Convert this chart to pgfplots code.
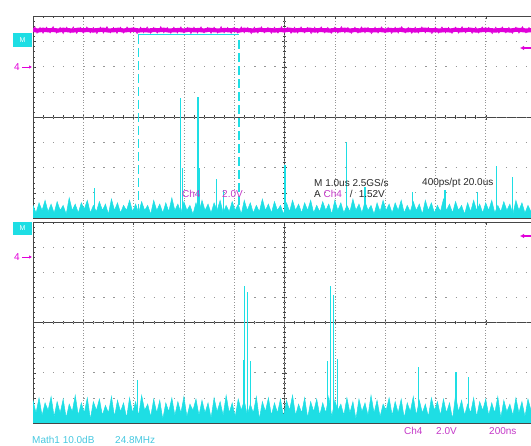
\documentclass[border=0pt]{standalone}
\usepackage{pgfplots}
\pgfplotsset{compat=1.18}
\usepackage{pgfplotstable}
\usepackage{fontspec}
\setmainfont{Liberation Sans}
\usetikzlibrary{arrows.meta}

\definecolor{trM}{RGB}{225,0,218}
\definecolor{trC}{RGB}{30,222,228}
\definecolor{txM}{RGB}{196,56,200}
\definecolor{txC}{RGB}{70,200,224}
\definecolor{txK}{RGB}{40,40,40}
\definecolor{grat}{RGB}{70,70,70}
\definecolor{gdot}{RGB}{150,150,150}
\definecolor{trig}{RGB}{40,120,220}
\newcommand\fs{\fontsize{10}{12}\selectfont}

% magenta trace (divisions)
\pgfplotstableread[row sep=\\]{
x y\\
-5.0 3.46\\ -4.9 3.44\\ -4.8 3.47\\ -4.7 3.45\\ -4.6 3.46\\ -4.5 3.44\\ -4.4 3.47\\ -4.3 3.45\\ -4.2 3.44\\ -4.1 3.47\\
-4.0 3.45\\ -3.9 3.46\\ -3.8 3.44\\ -3.7 3.46\\ -3.6 3.47\\ -3.5 3.44\\ -3.4 3.45\\ -3.3 3.47\\ -3.2 3.44\\ -3.1 3.46\\
-3.0 3.47\\ -2.9 3.44\\ -2.8 3.46\\ -2.7 3.44\\ -2.6 3.46\\ -2.5 3.45\\ -2.4 3.47\\ -2.3 3.44\\ -2.2 3.45\\ -2.1 3.46\\
-2.0 3.44\\ -1.9 3.47\\ -1.8 3.45\\ -1.7 3.46\\ -1.6 3.44\\ -1.5 3.47\\ -1.4 3.45\\ -1.3 3.44\\ -1.2 3.46\\ -1.1 3.45\\
-1.0 3.46\\ -0.9 3.44\\ -0.8 3.47\\ -0.7 3.45\\ -0.6 3.44\\ -0.5 3.47\\ -0.4 3.45\\ -0.3 3.46\\ -0.2 3.44\\ -0.1 3.46\\
0.0 3.45\\ 0.1 3.47\\ 0.2 3.44\\ 0.3 3.46\\ 0.4 3.45\\ 0.5 3.47\\ 0.6 3.44\\ 0.7 3.46\\ 0.8 3.45\\ 0.9 3.44\\
1.0 3.46\\ 1.1 3.45\\ 1.2 3.47\\ 1.3 3.44\\ 1.4 3.46\\ 1.5 3.44\\ 1.6 3.47\\ 1.7 3.45\\ 1.8 3.45\\ 1.9 3.46\\
2.0 3.44\\ 2.1 3.46\\ 2.2 3.45\\ 2.3 3.47\\ 2.4 3.44\\ 2.5 3.46\\ 2.6 3.44\\ 2.7 3.46\\ 2.8 3.47\\ 2.9 3.45\\
3.0 3.45\\ 3.1 3.44\\ 3.2 3.46\\ 3.3 3.44\\ 3.4 3.47\\ 3.5 3.45\\ 3.6 3.46\\ 3.7 3.47\\ 3.8 3.44\\ 3.9 3.45\\
4.0 3.47\\ 4.1 3.45\\ 4.2 3.44\\ 4.3 3.46\\ 4.4 3.45\\ 4.5 3.44\\ 4.6 3.47\\ 4.7 3.46\\ 4.8 3.44\\ 4.9 3.45\\
}\magtab

% magenta band edge hairs (divisions)
\pgfplotstableread[row sep=\\]{
x y\\
-5.00 3.45\\ -4.96 3.58\\ -4.92 3.34\\ -4.86 3.56\\ -4.80 3.33\\ -4.73 3.57\\ -4.66 3.35\\ -4.60 3.59\\ -4.53 3.34\\ -4.46 3.56\\
-4.40 3.32\\ -4.33 3.57\\ -4.26 3.35\\ -4.20 3.58\\ -4.13 3.33\\ -4.06 3.56\\ -4.00 3.34\\ -3.93 3.58\\ -3.86 3.35\\ -3.80 3.56\\
-3.73 3.32\\ -3.66 3.57\\ -3.60 3.34\\ -3.53 3.59\\ -3.46 3.35\\ -3.40 3.56\\ -3.33 3.33\\ -3.26 3.57\\ -3.20 3.34\\ -3.13 3.58\\
-3.06 3.35\\ -3.00 3.56\\ -2.93 3.32\\ -2.86 3.57\\ -2.80 3.35\\ -2.73 3.58\\ -2.66 3.33\\ -2.60 3.56\\ -2.53 3.34\\ -2.46 3.59\\
-2.40 3.35\\ -2.33 3.56\\ -2.26 3.33\\ -2.20 3.57\\ -2.13 3.34\\ -2.06 3.58\\ -2.00 3.35\\ -1.93 3.56\\ -1.86 3.32\\ -1.80 3.57\\
-1.73 3.34\\ -1.66 3.58\\ -1.60 3.35\\ -1.53 3.56\\ -1.46 3.33\\ -1.40 3.57\\ -1.33 3.34\\ -1.26 3.59\\ -1.20 3.35\\ -1.13 3.56\\
-1.06 3.33\\ -1.00 3.57\\ -0.93 3.34\\ -0.86 3.58\\ -0.80 3.35\\ -0.73 3.56\\ -0.66 3.32\\ -0.60 3.57\\ -0.53 3.34\\ -0.46 3.58\\
-0.40 3.35\\ -0.33 3.56\\ -0.26 3.33\\ -0.20 3.57\\ -0.13 3.34\\ -0.06 3.59\\ 0.00 3.35\\ 0.06 3.56\\ 0.13 3.33\\ 0.20 3.57\\
0.26 3.34\\ 0.33 3.58\\ 0.40 3.35\\ 0.46 3.56\\ 0.53 3.32\\ 0.60 3.57\\ 0.66 3.34\\ 0.73 3.58\\ 0.80 3.35\\ 0.86 3.56\\
0.93 3.33\\ 1.00 3.57\\ 1.06 3.34\\ 1.13 3.59\\ 1.20 3.35\\ 1.26 3.56\\ 1.33 3.33\\ 1.40 3.57\\ 1.46 3.34\\ 1.53 3.58\\
1.60 3.35\\ 1.66 3.56\\ 1.73 3.32\\ 1.80 3.57\\ 1.86 3.34\\ 1.93 3.58\\ 2.00 3.35\\ 2.06 3.56\\ 2.13 3.33\\ 2.20 3.57\\
2.26 3.34\\ 2.33 3.59\\ 2.40 3.35\\ 2.46 3.56\\ 2.53 3.33\\ 2.60 3.57\\ 2.66 3.34\\ 2.73 3.58\\ 2.80 3.35\\ 2.86 3.56\\
2.93 3.32\\ 3.00 3.57\\ 3.06 3.34\\ 3.13 3.58\\ 3.20 3.35\\ 3.26 3.56\\ 3.33 3.33\\ 3.40 3.57\\ 3.46 3.34\\ 3.53 3.59\\
3.60 3.35\\ 3.66 3.56\\ 3.73 3.33\\ 3.80 3.57\\ 3.86 3.34\\ 3.93 3.58\\ 4.00 3.35\\ 4.06 3.56\\ 4.13 3.32\\ 4.20 3.57\\
4.26 3.34\\ 4.33 3.58\\ 4.40 3.35\\ 4.46 3.56\\ 4.53 3.33\\ 4.60 3.57\\ 4.66 3.34\\ 4.73 3.59\\ 4.80 3.35\\ 4.86 3.56\\ 4.90 3.45\\
}\maghair

% cyan noise envelopes (top panel, bottom panel), divisions
\pgfplotstableread[row sep=\\]{
x top bot\\
-5.00 -4.6 -4.6\\
-5.00 -3.5 -3.1\\ -4.94 -3.8 -3.6\\ -4.88 -3.4 -3.0\\ -4.82 -3.7 -3.7\\ -4.76 -3.3 -3.2\\ -4.70 -3.75 -3.5\\ -4.64 -3.45 -2.95\\ -4.58 -3.8 -3.75\\ -4.52 -3.35 -3.15\\ -4.46 -3.7 -3.6\\
-4.40 -3.5 -3.05\\ -4.34 -3.85 -3.8\\ -4.28 -3.2 -3.25\\ -4.22 -3.7 -3.55\\ -4.16 -3.45 -2.9\\ -4.10 -3.8 -3.7\\ -4.04 -3.4 -3.2\\ -3.98 -3.65 -3.6\\ -3.92 -3.3 -3.0\\ -3.86 -3.8 -3.85\\
-3.80 -3.5 -3.15\\ -3.74 -3.75 -3.5\\ -3.68 -3.35 -3.05\\ -3.62 -3.7 -3.7\\ -3.56 -3.45 -3.3\\ -3.50 -3.85 -3.6\\ -3.44 -3.25 -2.95\\ -3.38 -3.7 -3.75\\ -3.32 -3.4 -3.1\\ -3.26 -3.8 -3.55\\
-3.20 -3.5 -3.2\\ -3.14 -3.7 -3.8\\ -3.08 -3.3 -3.0\\ -3.02 -3.75 -3.6\\ -2.96 -3.45 -3.15\\ -2.90 -3.8 -3.7\\ -2.84 -3.35 -2.9\\ -2.78 -3.7 -3.5\\ -2.72 -3.5 -3.25\\ -2.66 -3.85 -3.75\\
-2.60 -3.3 -3.05\\ -2.54 -3.7 -3.6\\ -2.48 -3.45 -3.1\\ -2.42 -3.8 -3.85\\ -2.36 -3.4 -3.2\\ -2.30 -3.75 -3.55\\ -2.24 -3.2 -3.0\\ -2.18 -3.7 -3.7\\ -2.12 -3.45 -3.15\\ -2.06 -3.8 -3.6\\
-2.00 -3.35 -2.95\\ -1.94 -3.7 -3.75\\ -1.88 -3.5 -3.25\\ -1.82 -3.85 -3.5\\ -1.76 -3.4 -3.05\\ -1.70 -3.75 -3.7\\ -1.64 -3.3 -3.1\\ -1.58 -3.7 -3.6\\ -1.52 -3.45 -3.2\\ -1.46 -3.8 -3.8\\
-1.40 -3.4 -3.0\\ -1.34 -3.7 -3.55\\ -1.28 -3.3 -3.15\\ -1.22 -3.8 -3.7\\ -1.16 -3.5 -2.9\\ -1.10 -3.75 -3.6\\ -1.04 -3.35 -3.2\\ -0.98 -3.7 -3.75\\ -0.92 -3.45 -3.05\\ -0.86 -3.85 -3.5\\
-0.80 -3.3 -3.1\\ -0.74 -3.7 -3.7\\ -0.68 -3.4 -3.25\\ -0.62 -3.8 -3.6\\ -0.56 -3.5 -2.95\\ -0.50 -3.75 -3.85\\ -0.44 -3.25 -3.15\\ -0.38 -3.7 -3.55\\ -0.32 -3.45 -3.0\\ -0.26 -3.8 -3.7\\
-0.20 -3.35 -3.2\\ -0.14 -3.7 -3.6\\ -0.08 -3.5 -3.05\\ -0.02 -3.85 -3.75\\ 0.04 -3.4 -3.1\\ 0.10 -3.75 -3.5\\ 0.16 -3.3 -2.9\\ 0.22 -3.7 -3.7\\ 0.28 -3.45 -3.25\\ 0.34 -3.8 -3.6\\
0.40 -3.4 -3.0\\ 0.46 -3.7 -3.8\\ 0.52 -3.3 -3.15\\ 0.58 -3.8 -3.55\\ 0.64 -3.5 -3.05\\ 0.70 -3.75 -3.7\\ 0.76 -3.35 -3.2\\ 0.82 -3.7 -3.6\\ 0.88 -3.45 -2.95\\ 0.94 -3.85 -3.75\\
1.00 -3.3 -3.1\\ 1.06 -3.7 -3.5\\ 1.12 -3.4 -3.25\\ 1.18 -3.8 -3.7\\ 1.24 -3.5 -3.0\\ 1.30 -3.75 -3.6\\ 1.36 -3.25 -3.15\\ 1.42 -3.7 -3.85\\ 1.48 -3.45 -3.05\\ 1.54 -3.8 -3.55\\
1.60 -3.35 -3.2\\ 1.66 -3.7 -3.7\\ 1.72 -3.5 -2.9\\ 1.78 -3.85 -3.6\\ 1.84 -3.4 -3.1\\ 1.90 -3.75 -3.75\\ 1.96 -3.3 -3.25\\ 2.02 -3.7 -3.5\\ 2.08 -3.45 -3.0\\ 2.14 -3.8 -3.7\\
2.20 -3.4 -3.15\\ 2.26 -3.7 -3.6\\ 2.32 -3.3 -3.05\\ 2.38 -3.8 -3.8\\ 2.44 -3.5 -3.2\\ 2.50 -3.75 -3.55\\ 2.56 -3.35 -2.95\\ 2.62 -3.7 -3.7\\ 2.68 -3.45 -3.1\\ 2.74 -3.85 -3.6\\
2.80 -3.3 -3.25\\ 2.86 -3.7 -3.75\\ 2.92 -3.4 -3.0\\ 2.98 -3.8 -3.5\\ 3.04 -3.5 -3.15\\ 3.10 -3.75 -3.7\\ 3.16 -3.25 -3.05\\ 3.22 -3.7 -3.6\\ 3.28 -3.45 -3.2\\ 3.34 -3.8 -3.85\\
3.40 -3.35 -2.9\\ 3.46 -3.7 -3.55\\ 3.52 -3.5 -3.1\\ 3.58 -3.85 -3.7\\ 3.64 -3.4 -3.25\\ 3.70 -3.75 -3.6\\ 3.76 -3.3 -3.0\\ 3.82 -3.7 -3.75\\ 3.88 -3.45 -3.15\\ 3.94 -3.8 -3.5\\
4.00 -3.4 -3.05\\ 4.06 -3.7 -3.7\\ 4.12 -3.3 -3.2\\ 4.18 -3.8 -3.6\\ 4.24 -3.5 -2.95\\ 4.30 -3.75 -3.8\\ 4.36 -3.35 -3.1\\ 4.42 -3.7 -3.55\\ 4.48 -3.45 -3.25\\ 4.54 -3.85 -3.7\\
4.60 -3.3 -3.0\\ 4.66 -3.7 -3.6\\ 4.72 -3.4 -3.15\\ 4.78 -3.8 -3.75\\ 4.84 -3.5 -3.05\\ 4.90 -3.75 -3.5\\
4.90 -4.6 -4.6\\
}\noisetab

\pgfplotsset{
 panel/.style={scale only axis, width=498pt, xmin=-5, xmax=4.9, ymin=-4, ymax=4,
   xtick={-5,...,4}, ytick={-4,...,4}, minor x tick num=4, minor y tick num=4,
   xticklabels={}, yticklabels={}},
 frame/.style={panel, axis x line=box, axis y line=left,
   x axis line style={-}, y axis line style={-},
   axis line style={grat, line width=0.5pt},
   tick align=inside, major tick length=3pt, minor tick length=2pt,
   tick style={grat, line width=0.4pt},
   grid=major,
   major x grid style={gdot, line width=0.5pt, dash pattern=on 0.8pt off 2pt},
   major y grid style={gdot, line width=0.6pt, dash pattern=on 1.2pt off 8.86pt},
   clip mode=individual, unbounded coords=jump},
 center/.style={panel, axis lines=middle,
   every inner x axis line/.append style={-}, every inner y axis line/.append style={-},
   axis line style={-, grat, line width=0.6pt},
   tick align=center, major tick length=5pt, minor tick length=3.5pt,
   tick style={grat, line width=0.4pt}},
}

\begin{document}
\begin{tikzpicture}
\useasboundingbox (0,0) rectangle (531pt,446pt);

% ---------- top panel ----------
\begin{axis}[center, height=201.6pt, at={(33pt,228pt)}, anchor=south west]
\end{axis}
\begin{axis}[frame, height=201.6pt, at={(33pt,228pt)}, anchor=south west]
 \addplot[trC, line width=0.5pt, fill=trC] table[x=x, y=top] \noisetab;
 \addplot[trC, line width=1.2pt] coordinates {
  (-3.77,-4.5) (-3.77,-2.82) (nan,nan)
  (-2.06,-4.5) (-2.06,0.75) (nan,nan)
  (-2.03,-4.5) (-2.03,-2.0) (nan,nan)
  (-1.72,-4.5) (-1.72,0.79) (nan,nan)
  (-1.69,-4.5) (-1.69,-2.0) (nan,nan)
  (-1.36,-4.5) (-1.36,-2.46) (nan,nan)
  (-1.22,-4.5) (-1.22,-2.9) (nan,nan)
  (0.01,-4.5) (0.01,-1.9) (nan,nan)
  (1.24,-4.5) (1.24,-0.99) (nan,nan)
  (1.60,-4.5) (1.60,-2.78) (nan,nan)
  (2.55,-4.5) (2.55,-2.98) (nan,nan)
  (3.19,-4.5) (3.19,-2.9) (nan,nan)
  (3.83,-4.5) (3.83,-2.98) (nan,nan)
  (4.22,-4.5) (4.22,-1.94) (nan,nan)
  (4.54,-4.5) (4.54,-2.38)
 };
 \addplot[trC, line width=1.2pt, dash pattern=on 9pt off 4pt] coordinates {
  (-2.91,3.27) (-2.91,-4.5) (nan,nan) (-0.905,3.05) (-0.905,-4.5)};
 \addplot[trC, line width=1pt] coordinates {(-2.91,3.27) (-0.905,3.27)};
 \addplot[trM, line width=0.7pt] table[x=x, y=y] \maghair;
 \addplot[trM, line width=4.2pt] table[x=x, y=y] \magtab;
 \addplot[only marks, mark=triangle*, mark size=4pt, color=trig, mark options={rotate=180}] coordinates {(-3.01,4.1)};
\end{axis}

% ---------- bottom panel ----------
\begin{axis}[center, height=200.8pt, at={(33pt,23pt)}, anchor=south west]
\end{axis}
\begin{axis}[frame, height=200.8pt, at={(33pt,23pt)}, anchor=south west]
 \addplot[trC, line width=0.5pt, fill=trC] table[x=x, y=bot] \noisetab;
 \addplot[trC, line width=1.2pt] coordinates {
  (-2.93,-4.5) (-2.93,-2.29) (nan,nan)
  (-0.79,-4.5) (-0.79,1.45) (nan,nan)
  (-0.73,-4.5) (-0.73,1.2) (nan,nan)
  (-0.82,-4.5) (-0.82,-1.5) (nan,nan)
  (-0.68,-4.5) (-0.68,-1.55) (nan,nan)
  (0.91,-4.5) (0.91,1.45) (nan,nan)
  (0.97,-4.5) (0.97,1.1) (nan,nan)
  (0.86,-4.5) (0.86,-1.55) (nan,nan)
  (1.05,-4.5) (1.05,-1.45) (nan,nan)
  (2.67,-4.5) (2.67,-1.77) (nan,nan)
  (3.41,-4.5) (3.41,-1.97) (nan,nan)
  (3.65,-4.5) (3.65,-2.17)
 };
\end{axis}

% ---------- annotations ----------
\fill[trC] (13pt,399pt) rectangle (32pt,413pt);
\node[text=white, font=\fontsize{7}{8}\selectfont, inner sep=0pt] at (22.5pt,406pt) {M};
\fill[trC] (13pt,211pt) rectangle (32pt,224pt);
\node[text=white, font=\fontsize{7}{8}\selectfont, inner sep=0pt] at (22.5pt,217.5pt) {M};

\node[text=trM, font=\fs, inner sep=0pt] at (17pt,379pt) {4};
\draw[trM, line width=0.9pt, -{Latex[length=3pt,width=3.5pt]}] (22pt,379pt) -- (32pt,379pt);
\node[text=trM, font=\fs, inner sep=0pt] at (17pt,189pt) {4};
\draw[trM, line width=0.9pt, -{Latex[length=3pt,width=3.5pt]}] (22pt,189pt) -- (32pt,189pt);

\draw[trM, line width=1.2pt, -{Latex[length=4pt,width=4.5pt]}] (531pt,398pt) -- (520pt,398pt);
\draw[trM, line width=1.2pt, -{Latex[length=4pt,width=4.5pt]}] (531pt,210pt) -- (520pt,210pt);

\node[anchor=west, text=txM, font=\fs, inner sep=0pt] at (182pt,252pt) {Ch4};
\node[anchor=west, text=txM, font=\fs, inner sep=0pt] at (222pt,252pt) {2.0V};
\node[anchor=west, text=txK, font=\fs, inner sep=0pt] at (314pt,263pt) {M 1.0us 2.5GS/s};
\node[anchor=west, text=txK, font=\fs, inner sep=0pt] at (422pt,263pt) {400ps/pt 20.0us};
\node[anchor=west, text=txK, font=\fs, inner sep=0pt] at (314pt,252pt) {A \textcolor{txM}{Ch4}\hspace{8pt}/\hspace{6pt}1.52V};

\node[anchor=west, text=txM, font=\fs, inner sep=0pt] at (404pt,15pt) {Ch4};
\node[anchor=west, text=txM, font=\fs, inner sep=0pt] at (436pt,15pt) {2.0V};
\node[anchor=west, text=txM, font=\fs, inner sep=0pt] at (489pt,15pt) {200ns};
\node[anchor=west, text=txC, font=\fs, inner sep=0pt] at (32pt,6pt) {Math1 10.0dB};
\node[anchor=west, text=txC, font=\fs, inner sep=0pt] at (115pt,6pt) {24.8MHz};
\end{tikzpicture}
\end{document}
